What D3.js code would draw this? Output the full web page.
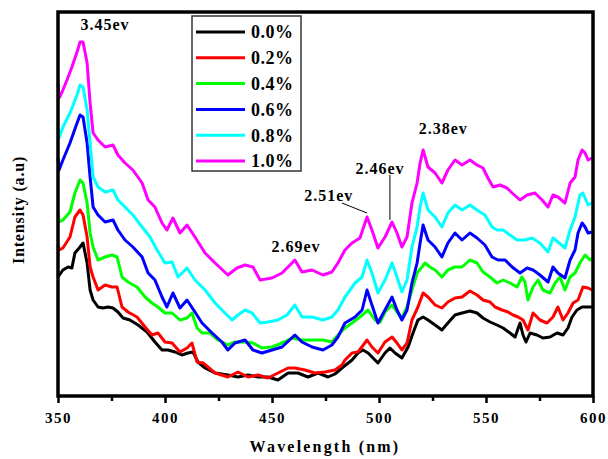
<!DOCTYPE html>
<html>
<head>
    <title>PL spectra</title>
    <script src="https://d3js.org/d3.v7.min.js"></script>
    <style>
        body { margin: 0; background: #fff; }
        text { font-family: "Liberation Serif", "Times New Roman", serif; font-weight: bold; }
        .axis text { font-size: 15px; letter-spacing: 1.5px; }
        .axis path, .axis line { stroke: #000; stroke-width: 2.5; }
        .axis-label { font-size: 16px; letter-spacing: 2.2px; }
        .legend text { font-size: 18px; letter-spacing: 0.5px; }
        .note { font-size: 16px; letter-spacing: 1px; }
    </style>
</head>
<body>
    <svg width="608" height="459"></svg>
    <script>
        // series as [wavelength (nm), intensity (a.u.)]
        var s00 = [[350,119],[352.3,126],[354.7,129],[356.5,128],[357.9,143],[360.3,149],[361.7,153],[363.6,133],[365,106],[366.4,96],[368.7,89],[371,88],[373.4,89],[375.7,88],[378,84],[380.4,78],[383.6,76],[387.4,71],[391.6,64],[395.3,54],[398.6,46],[401.4,46],[404.7,44],[407.9,41],[410.7,43],[413.1,44],[415.4,34],[418.7,28],[423.4,23],[429.4,21],[434.1,19],[438.8,21],[443.5,19],[448.1,19],[452.8,16],[457.5,23],[462.1,23],[466.8,19],[471.5,23],[476.2,19],[479.4,22],[482.7,28],[487.4,36],[490.2,43],[492.5,46],[494.9,43],[497.2,38],[499.5,33],[502.8,43],[505.1,48],[507.5,43],[510.7,38],[513.6,49],[515.9,63],[518.2,76],[520.6,79],[522.9,76],[526.2,71],[529.4,66],[532.2,73],[535.5,81],[538.8,83],[542.5,85],[545.8,83],[548.6,78],[551.9,74],[555.1,71],[558,68],[561.2,63],[563.6,59],[565.9,73],[567.3,61],[568.7,54],[570.6,63],[573.8,61],[576.6,58],[579.9,59],[583.2,63],[586,61],[588.3,68],[590.2,79],[592.5,86],[594.9,89],[597.2,89],[599.5,89]];
        var s02 = [[350,151],[350.5,146],[352.3,148],[355.6,159],[357.9,179],[360.3,186],[361.7,181],[363.6,159],[365,129],[366.4,119],[368.7,106],[372,111],[375.2,109],[377.6,109],[379.9,89],[382.7,84],[386.9,79],[390.7,69],[393.9,61],[396.7,63],[400,54],[403.3,53],[407,44],[410.3,48],[412.6,53],[415,34],[417.8,33],[423.4,23],[429.4,19],[434.1,24],[438.8,19],[443.5,21],[448.1,18],[452.8,23],[457.5,28],[460.7,28],[465.4,26],[470.1,23],[474.8,24],[479.4,26],[482.7,31],[484.1,36],[487.4,43],[490.2,44],[494.4,56],[496.7,49],[499.5,43],[502.8,54],[506.1,59],[508.4,53],[510.7,46],[513.1,53],[515.4,76],[518.2,89],[520.6,103],[522.9,99],[526.2,91],[529.4,88],[532.2,94],[535.5,98],[538.8,99],[542.5,105],[545.8,101],[548.6,96],[551.9,94],[554.2,89],[557.5,86],[560.3,84],[562.6,81],[565,79],[567.3,76],[569.6,66],[572,83],[575.2,76],[578.5,73],[581.3,79],[583.6,89],[586,76],[588.3,83],[590.7,93],[593,96],[595.3,109],[597.7,108],[599.5,106]];
        var s04 = [[350,183],[350.5,174],[352.3,176],[355.6,184],[357.9,203],[360.3,216],[361.7,213],[363.6,193],[365,163],[366.4,149],[368.7,136],[372,139],[375.2,141],[377.6,139],[379.9,119],[382.7,114],[386.9,109],[390.7,99],[393.9,93],[396.7,89],[400,83],[403.3,83],[407,76],[410.3,78],[412.6,83],[415,68],[417.3,63],[421,63],[424.8,56],[429.4,51],[432.7,54],[437.4,54],[441.1,53],[445.3,48],[450,49],[454.7,53],[459.3,58],[464,56],[468.7,56],[473.8,56],[478,54],[480.8,61],[484.1,68],[487.4,73],[491.1,79],[494.9,86],[498.1,76],[500.5,74],[502.8,84],[506.1,91],[508.4,84],[510.7,78],[513.1,89],[515.4,106],[517.8,123],[520.1,129],[521.5,133],[523.8,129],[526.2,126],[529.4,119],[532.2,126],[535.5,129],[538.8,129],[542.5,136],[545.8,133],[548.6,124],[551.9,119],[555.1,113],[558,116],[561.2,113],[564.5,109],[566.8,119],[568.2,114],[569.6,96],[572,109],[574.3,116],[576.6,106],[579.9,103],[582.3,113],[584.6,119],[586.9,106],[589.3,119],[591.6,123],[593.9,133],[596.3,141],[598.6,136],[599.5,138]];
        var s06 = [[350,238],[350.5,226],[352.3,236],[355.6,253],[358.9,273],[360.3,281],[361.7,279],[363.6,253],[365,219],[366.4,189],[368.7,181],[372,174],[375.7,176],[378,166],[381.3,156],[385,149],[389.3,139],[392.1,123],[395.3,116],[398.6,99],[400.9,89],[403.7,103],[407,88],[410.3,96],[414,84],[417.3,73],[422,63],[426.6,54],[429.4,46],[432.7,53],[437.4,56],[441.1,46],[445.3,43],[450,46],[454.7,49],[460.7,61],[464,54],[468.7,49],[473.8,46],[478,51],[480.8,59],[484.1,73],[488.8,79],[492.1,86],[494.4,106],[496.7,91],[499.5,73],[502.8,86],[506.1,99],[508.4,86],[510.7,76],[513.1,86],[515.4,113],[517.8,133],[519.2,153],[520.6,171],[522.9,156],[526.2,149],[529.4,139],[532.2,153],[535.5,163],[538.8,156],[542.5,163],[545.8,158],[549.5,151],[552.8,139],[555.6,136],[558.9,136],[562.2,129],[565.9,123],[569.2,128],[572,126],[575.2,121],[579,114],[581.3,129],[583.6,123],[586.9,118],[589.3,136],[591.6,146],[593,163],[594.9,173],[596.3,169],[597.7,163],[599.5,164]];
        var s08 = [[350,268],[350.5,258],[352.3,269],[355.6,283],[358.9,301],[360.3,311],[361.7,309],[363.6,286],[365,253],[366.4,219],[368.7,209],[372,204],[375.7,206],[378,196],[381.3,189],[385,181],[389.3,169],[393,159],[396.3,146],[400,133],[403.3,134],[406.1,119],[410.3,128],[414,116],[418.7,106],[423.4,93],[428,83],[431.3,76],[434.1,81],[437.4,86],[440.7,83],[444.4,73],[448.1,74],[452.8,76],[457,81],[460.7,91],[464,79],[468.7,79],[473.8,76],[478,79],[480.8,86],[484.1,99],[488.8,113],[492.1,119],[494.4,136],[496.7,123],[499.5,103],[502.8,116],[506.1,133],[508.4,119],[510.7,104],[513.1,116],[515.4,149],[517.8,169],[519.2,189],[520.6,203],[522.9,186],[526.2,179],[529.4,169],[532.2,183],[535.5,191],[538.8,186],[542.5,191],[545.8,186],[549.5,181],[552.8,169],[555.1,166],[558,166],[561.2,161],[564.5,156],[568.2,156],[571.5,158],[575.2,153],[579,144],[581.3,158],[583.6,154],[586.9,148],[589.3,166],[591.6,179],[593.9,201],[595.3,203],[597.7,191],[599.5,193]];
        var s10 = [[350,313],[350.5,298],[351.9,304],[354.2,316],[356.5,329],[358.9,344],[360.3,354],[361.7,354],[363.6,333],[365,293],[366.4,263],[368.7,256],[372,249],[375.7,251],[378,241],[381.3,233],[385,226],[389.3,213],[392.1,196],[395.3,189],[398.6,173],[400.9,166],[403.7,178],[407,163],[410.3,171],[414,159],[418.7,143],[423.4,133],[429.4,121],[433.6,128],[437.4,131],[441.1,129],[444.4,116],[450,118],[454.7,123],[460.7,136],[464,124],[468.7,126],[473.8,121],[478,124],[480.8,133],[484.1,146],[487.4,153],[491.1,158],[494.4,179],[496.7,166],[499.5,148],[502.8,159],[506.1,174],[508.4,163],[510.7,149],[513.1,159],[515.4,193],[517.8,213],[519.2,233],[520.6,246],[522.9,229],[526.2,223],[529.4,213],[532.2,226],[535.5,236],[538.8,231],[542.5,236],[545.8,231],[548.6,228],[550.9,218],[553.3,209],[556.5,211],[559.8,208],[562.2,203],[565.9,196],[569.2,201],[572.9,203],[576.2,196],[579,189],[581.3,201],[583.6,199],[586.9,193],[589.3,213],[591.6,219],[593,236],[594.9,246],[596.3,243],[597.7,236],[599.5,238]];

        var labels = ["0.0%", "0.2%", "0.4%", "0.6%", "0.8%", "1.0%"];
        var colors = ["#000000", "#ff0000", "#00ff00", "#0000ff", "#00ffff", "#ff00ff"];
        var xTicks = [350, 400, 450, 500, 550, 600];
        var xMinor = [375, 425, 475, 525, 575];

        // peak notes: text anchor [nm, a.u.]
        var notes = [
            {text: "3.45ev", x: 372, y: 366},
            {text: "2.69ev", x: 461.2, y: 144},
            {text: "2.51ev", x: 476.5, y: 195},
            {text: "2.46ev", x: 500.5, y: 222},
            {text: "2.38ev", x: 530, y: 262}
        ];
        var leaders = [
            [[482.7, 193], [494.4, 183]],
            [[505.1, 221], [505.1, 176]]
        ];

        var series = [s00, s02, s04, s06, s08, s10];

        var svg = d3.select("svg"),
            margin = {top: 12, right: 15, bottom: 63, left: 58},
            width = +svg.attr("width") - margin.left - margin.right,
            height = +svg.attr("height") - margin.top - margin.bottom;

        var x = d3.scaleLinear().domain([350, 600]).range([0, width]);
        var y = d3.scaleLinear().domain([0, 384]).range([height, 0]);

        var g = svg.append("g").attr("transform", "translate(" + margin.left + "," + margin.top + ")");

        var line = d3.line().x(d => x(d[0])).y(d => y(d[1]));

        g.selectAll(".curve")
            .data(series)
            .enter().append("path")
            .attr("class", "curve")
            .attr("d", line)
            .attr("fill", "none")
            .attr("stroke", (d, i) => colors[i])
            .attr("stroke-width", 3)
            .attr("stroke-linejoin", "round");

        // minor ticks
        g.append("g")
            .attr("class", "axis")
            .attr("transform", `translate(0,${height})`)
            .call(d3.axisBottom(x).tickValues(xMinor).tickSize(5).tickFormat(""))
            .select(".domain").remove();

        g.append("g")
            .attr("class", "axis")
            .attr("transform", `translate(0,${height})`)
            .call(d3.axisBottom(x).tickValues(xTicks).tickSize(7).tickPadding(9).tickSizeOuter(0))
            .select(".domain").remove();

        // frame
        g.append("rect")
            .attr("width", width)
            .attr("height", height)
            .attr("fill", "none")
            .attr("stroke", "#000")
            .attr("stroke-width", 3.5);

        svg.append("text")
            .attr("class", "axis-label")
            .attr("x", 325)
            .attr("y", 452)
            .attr("text-anchor", "middle")
            .text("Wavelength (nm)");

        svg.append("text")
            .attr("class", "axis-label")
            .attr("transform", "translate(24," + 210 + ") rotate(-90)")
            .attr("text-anchor", "middle")
            .style("letter-spacing", "0.8px")
            .text("Intensity (a.u)");

        // peak notes
        g.selectAll(".note")
            .data(notes)
            .enter().append("text")
            .attr("class", "note")
            .attr("x", d => x(d.x))
            .attr("y", d => y(d.y))
            .attr("text-anchor", "middle")
            .text(d => d.text);

        g.selectAll(".leader")
            .data(leaders)
            .enter().append("path")
            .attr("class", "leader")
            .attr("d", d3.line().x(d => x(d[0])).y(d => y(d[1])))
            .attr("stroke", "#000")
            .attr("stroke-width", 1)
            .attr("fill", "none");

        // Legend
        var legend = svg.append("g")
            .attr("class", "legend")
            .attr("transform", "translate(192,16)");

        legend.append("rect")
            .attr("width", 109)
            .attr("height", 155)
            .attr("fill", "#fff")
            .attr("stroke", "#333")
            .attr("stroke-width", 1.5);

        var item = legend.selectAll(".item")
            .data(labels)
            .enter().append("g")
            .attr("class", "item")
            .attr("transform", (d, i) => `translate(0, ${16 + i * 25.8})`);

        item.append("line")
            .attr("x1", 4)
            .attr("x2", 53)
            .attr("stroke", (d, i) => colors[i])
            .attr("stroke-width", 3);

        item.append("text")
            .attr("x", 59)
            .attr("dy", "0.35em")
            .text(d => d);
    </script>
</body>
</html>
